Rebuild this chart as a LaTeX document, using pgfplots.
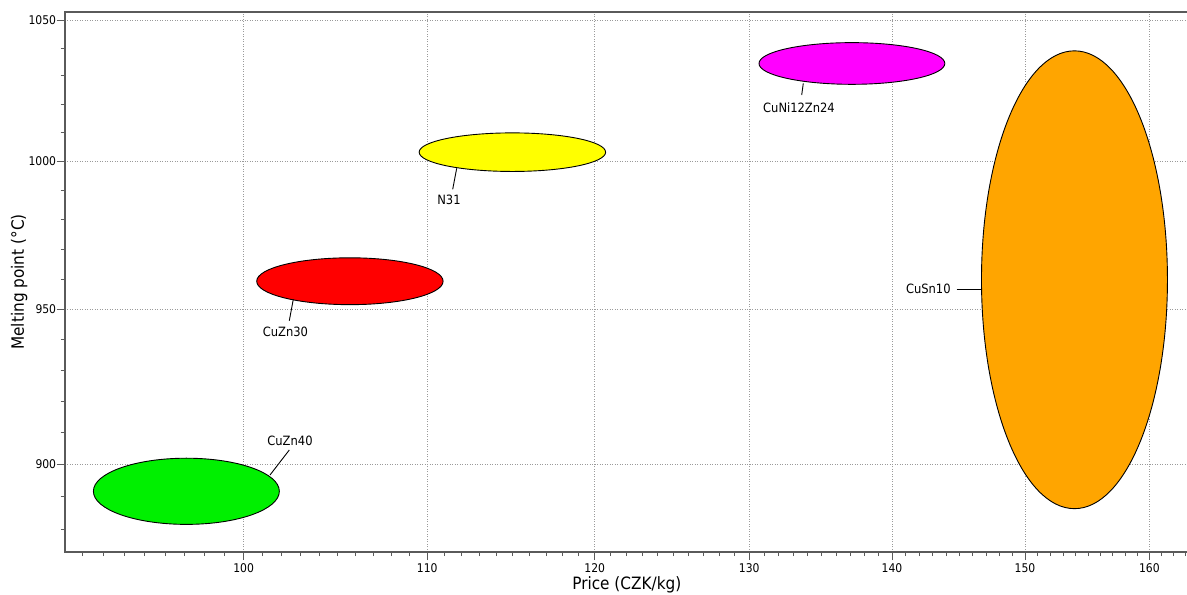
\documentclass[border=0pt]{standalone}
\usepackage{fontspec}
\setmainfont{DejaVu Sans Condensed}
\usepackage{pgfplots}
\pgfplotsset{compat=1.18}
\usetikzlibrary{calc}
\definecolor{axgray}{HTML}{5A5A5A}
\definecolor{gridgray}{HTML}{9A9A9A}
\definecolor{cgreen}{HTML}{00F000}
\definecolor{cred}{HTML}{FF0000}
\definecolor{cyellow}{HTML}{FFFF00}
\definecolor{cmag}{HTML}{FF00FF}
\definecolor{corange}{HTML}{FFA500}
% range corners: name, xmin, xmax, ymin, ymax (inside the axis)
\newcommand{\rangebox}[5]{%
  \coordinate (#1-a) at (axis cs:#2,#4);
  \coordinate (#1-b) at (axis cs:#3,#5);
}
% ellipse inscribed in the range box (after the axis)
\newcommand{\rangeellipse}[2]{%
  \draw[black, line width=0.36pt, fill=#2]
    let \p1=(#1-a), \p2=(#1-b) in
    ($(\p1)!0.5!(\p2)$) ellipse [x radius={0.5*(\x2-\x1)}, y radius={0.5*(\y2-\y1)}];
}
\begin{document}
% 1 unit = 1 reference pixel = 0.4pt
\begin{tikzpicture}[x=0.4pt,y=0.4pt]
\begin{axis}[
  at={(25.84pt,-220.8pt)}, anchor=south west,
  scale only axis, width=449.76pt, height=216pt,
  % logarithmic scales on both axes
  x coord trafo/.code={\pgfmathparse{ln(#1)}},
  x coord inv trafo/.code={\pgfmathparse{exp(#1)}},
  y coord trafo/.code={\pgfmathparse{ln(#1)}},
  y coord inv trafo/.code={\pgfmathparse{exp(#1)}},
  xmin=91.13, xmax=163.33, ymin=873.03, ymax=1053.13,
  xtick={100,110,120,130,140,150,160},
  xticklabels={100,110,120,130,140,150,160},
  minor xtick={92,93,94,95,96,97,98,99,101,102,103,104,105,106,107,108,109,111,112,113,114,115,116,117,118,119,121,122,123,124,125,126,127,128,129,131,132,133,134,135,136,137,138,139,141,142,143,144,145,146,147,148,149,151,152,153,154,155,156,157,158,159,161,162,163},
  ytick={900,950,1000,1050},
  yticklabels={900,950,1000,1050},
  minor ytick={880,890,910,920,930,940,960,970,980,990,1010,1020,1030,1040},
  tick pos=left, tick align=outside,
  major tick length=3.2pt, minor tick length=1.6pt,
  tick style={axgray, line width=0.4pt},
  axis line style={axgray, line width=0.8pt},
  grid=major,
  major grid style={gridgray, line width=0.32pt, dash pattern=on 0.4pt off 0.6pt},
  ticklabel style={font=\fontsize{4.8}{5.6}\selectfont, text=black, inner sep=0pt},
  xticklabel style={yshift=-1.1pt},
  xlabel={Price (CZK/kg)}, ylabel={Melting point (°C)},
  label style={font=\fontsize{6.8}{8}\selectfont},
  xlabel style={at={(axis description cs:0.5,0)}, anchor=base, yshift=-15pt},
  ylabel style={at={(axis description cs:0,0.5)}, anchor=base, yshift=16.24pt},
]
\rangebox{g}{92.50}{101.87}{881.5}{902.0}
\rangebox{r}{100.68}{110.91}{951.4}{967.1}
\rangebox{y}{109.54}{120.68}{996.5}{1009.9}
\rangebox{m}{130.66}{143.89}{1027.0}{1042.0}
\rangebox{o}{146.65}{161.51}{886.3}{1039.0}
\end{axis}
\rangeellipse{g}{cgreen}
\rangeellipse{r}{cred}
\rangeellipse{y}{cyellow}
\rangeellipse{m}{cmag}
\rangeellipse{o}{corange}
\begin{scope}[font=\fontsize{5.12}{6}\selectfont, line width=0.36pt]
\draw (289.3,-450) -- (270,-475);
\node at (290,-440.7) {CuZn40};
\draw (293.3,-299.3) -- (289.3,-320.7);
\node at (285.5,-331.7) {CuZn30};
\draw (456.7,-168.3) -- (452.7,-189.3);
\node at (449,-200) {N31};
\draw (803.3,-83.3) -- (801.7,-95);
\node at (799,-107.7) {CuNi12Zn24};
\draw (956.7,-289.5) -- (980.7,-289.5);
\node at (928.3,-289.3) {CuSn10};
\end{scope}
\pgfresetboundingbox
\path[use as bounding box] (0,0) rectangle (1187,-594);
\end{tikzpicture}
\end{document}
